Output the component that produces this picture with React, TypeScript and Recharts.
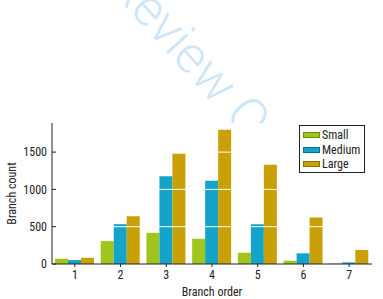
import React from 'react';
import { BarChart, Bar, XAxis, YAxis, CartesianGrid, ReferenceLine } from 'recharts';

const categories = ['1', '2', '3', '4', '5', '6', '7'];
const small = [71, 307, 418, 338, 151, 44, 6];
const medium = [53, 534, 1175, 1117, 534, 143, 22];
const large = [84, 641, 1478, 1798, 1331, 623, 187];
const seriesNames = ['Small', 'Medium', 'Large'];
const yTicks = [0, 500, 1000, 1500];
const gridValues = [500, 1000, 1500];

const data = categories.map((c, i) => ({ order: c, Small: small[i], Medium: medium[i], Large: large[i] }));

const FONT = '"Roboto Condensed", "Liberation Sans Narrow", Roboto, sans-serif';
const COLORS: Record<string, string> = { Small: '#a0c51b', Medium: '#14a3c9', Large: '#c9a005' };
const EDGE: Record<string, string> = { Small: '#6f8a10', Medium: '#0c7190', Large: '#8d7003' };

const LegendBox = () => (
  <div style={{ position: 'absolute', left: 299, top: 125, border: '1px solid #222', background: '#fff', width: 66, height: 48, boxSizing: 'border-box', padding: '2px 0 0 3px', fontFamily: FONT, fontSize: 12, color: '#222' }}>
    {seriesNames.map((name) => (
      <div key={name} style={{ display: 'flex', alignItems: 'center', height: 14.5, lineHeight: '14.5px' }}>
        <span style={{ display: 'inline-block', width: 17, height: 6, background: COLORS[name], border: `1px solid ${EDGE[name]}`, boxSizing: 'border-box', marginRight: 2 }} />
        <span>{name}</span>
      </div>
    ))}
  </div>
);

export default function App() {
  return (
    <div style={{ position: 'absolute', left: 0, top: 0, width: 383, height: 299, background: '#fff', overflow: 'hidden' }}>
      <svg width={383} height={299} style={{ position: 'absolute', left: 0, top: 0 }}>
        <text x={-239} y={0} transform="translate(130,12) rotate(48)" textAnchor="start" fontFamily="Roboto, sans-serif" fontWeight={300} fontSize={52} fill="#cfe6f7">For Peer Review Only</text>
      </svg>
      <div style={{ position: 'absolute', left: 0, top: 0 }}>
        <BarChart width={383} height={299} data={data} margin={{ top: 123, right: 11, bottom: 5, left: 12 }} barCategoryGap={3} barGap={0} style={{ fontFamily: FONT }}>
          <CartesianGrid fill="#fff" horizontal={false} vertical={false} stroke="none" />
          <XAxis dataKey="order" height={30} tickLine={{ stroke: '#222' }} tickSize={3} tickMargin={3} axisLine={{ stroke: '#222' }} tick={{ fill: '#222', fontSize: 12, fontFamily: FONT }} interval={0}
            label={{ value: 'Branch order', position: 'insideBottom', offset: 0, dy: 2, fill: '#222', fontSize: 12, fontFamily: FONT }} />
          <XAxis dataKey="order" xAxisId="top" orientation="top" tick={false} tickLine={false} axisLine={{ stroke: '#222' }} height={0} />
          <YAxis width={40} domain={[0, 1890]} ticks={yTicks} allowDataOverflow tickSize={-4} tickMargin={9} tickLine={{ stroke: '#222' }} axisLine={{ stroke: '#222' }} tick={{ fill: '#222', fontSize: 12, fontFamily: FONT }}
            label={{ value: 'Branch count', angle: -90, position: 'insideLeft', offset: 0, fill: '#222', fontSize: 12, fontFamily: FONT, style: { textAnchor: 'middle' } }} />
          <YAxis yAxisId="right" orientation="right" width={0} domain={[0, 1890]} ticks={yTicks} tick={false} tickSize={-4} tickLine={{ stroke: '#222' }} axisLine={{ stroke: '#222' }} />
          <Bar dataKey="Small" fill={COLORS.Small} isAnimationActive={false} />
          <Bar dataKey="Medium" fill={COLORS.Medium} isAnimationActive={false} />
          <Bar dataKey="Large" fill={COLORS.Large} isAnimationActive={false} />
          {gridValues.map((v) => (
            <ReferenceLine key={v} y={v} stroke="#ffffff" strokeWidth={1} />
          ))}
        </BarChart>
      </div>
      <LegendBox />
    </div>
  );
}
